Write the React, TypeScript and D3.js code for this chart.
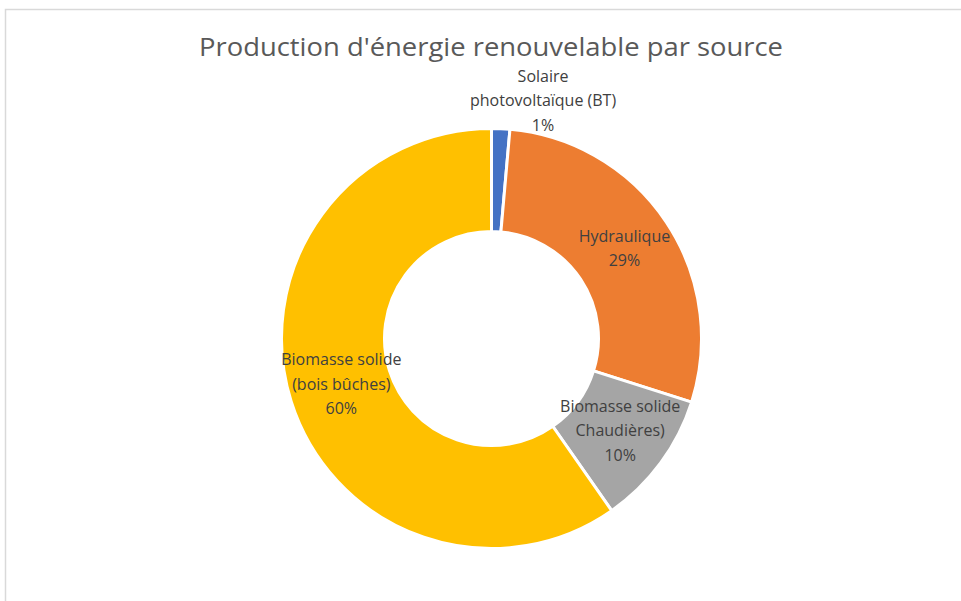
import React, { useEffect, useRef } from 'react';
import * as d3 from 'd3';

// Production share by source (%)
const categories = [
  'Solaire photovoltaïque (BT)',
  'Hydraulique',
  'Biomasse solide Chaudières)',
  'Biomasse solide (bois bûches)',
];
const values = [1.4, 28.5, 10.4, 59.7];
const labelLines = [
  ['Solaire', 'photovoltaïque (BT)', '1%'],
  ['Hydraulique', '29%'],
  ['Biomasse solide', 'Chaudières)', '10%'],
  ['Biomasse solide', '(bois bûches)', '60%'],
];
const colors = ['#4472C4', '#ED7D31', '#A5A5A5', '#FFC000'];
const title = "Production d'énergie renouvelable par source";

const W = 961;
const H = 601;

export default function App() {
  const ref = useRef<SVGSVGElement>(null);

  useEffect(() => {
    const svg = d3.select(ref.current);
    svg.selectAll('*').remove();

    // chart area border
    svg.append('rect')
      .attr('x', 5.5).attr('y', 9.5)
      .attr('width', 1200).attr('height', 1200)
      .attr('fill', '#fff')
      .attr('stroke', '#D9D9D9')
      .attr('stroke-width', 1.5);

    svg.append('text')
      .attr('x', 491).attr('y', 56)
      .attr('text-anchor', 'middle')
      .attr('font-family', 'Open Sans, Noto Sans, sans-serif')
      .attr('font-size', 25)
      .attr('fill', '#595959')
      .attr('textLength', 584)
      .attr('lengthAdjust', 'spacingAndGlyphs')
      .text(title);

    const cx = 491.5, cy = 338.5;
    const outerR = 210, innerR = 107;

    const data = categories.map((c, i) => ({ name: c, value: values[i], i }));
    const pie = d3.pie<any>().sort(null).value(d => d.value);
    const arcs = pie(data);
    const arc = d3.arc<any>().innerRadius(innerR).outerRadius(outerR);
    const outerArc = d3.arc<any>().innerRadius(240).outerRadius(240);

    const g = svg.append('g').attr('transform', `translate(${cx},${cy})`);

    g.selectAll('path')
      .data(arcs)
      .enter()
      .append('path')
      .attr('d', arc)
      .attr('fill', d => colors[d.data.i])
      .attr('stroke', '#fff')
      .attr('stroke-width', 3)
      .attr('stroke-linejoin', 'miter');

    const lineH = 24.5;
    const lab = g.selectAll('g.lab')
      .data(arcs)
      .enter()
      .append('g')
      .attr('class', 'lab')
      .attr('transform', d => {
        // small slices get their label outside the ring
        const small = d.data.value < 5;
        const [x, y] = small ? outerArc.centroid(d) : arc.centroid(d);
        return `translate(${small ? x + 41 : x + 1},${small ? y + 2 : y - 2})`;
      });

    lab.each(function (d) {
      const lines = labelLines[d.data.i];
      const n = lines.length;
      const t = d3.select(this).append('text')
        .attr('text-anchor', 'middle')
        .attr('font-family', 'Open Sans, Noto Sans, sans-serif')
        .attr('font-size', 16)
        .attr('fill', '#404040');
      lines.forEach((l, k) => {
        t.append('tspan')
          .attr('x', 0)
          .attr('y', (k - (n - 1) / 2) * lineH)
          .attr('dy', '0.35em')
          .text(l);
      });
    });
  }, []);

  return (
    <svg
      ref={ref}
      width={W}
      height={H}
      style={{ position: 'absolute', left: 0, top: 0, background: '#fff' }}
    />
  );
}
